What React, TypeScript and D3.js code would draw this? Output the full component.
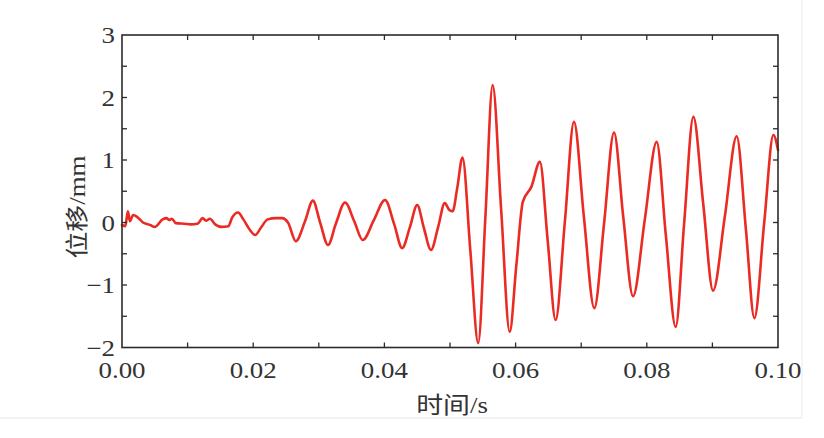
import React from "react";
import * as d3 from "d3";

const timeS: number[] = [
  0, 0.0005, 0.0009, 0.0012, 0.0017, 0.0023, 0.0032, 0.0043, 0.005, 0.0062,
  0.0068, 0.0072, 0.0076, 0.0082, 0.0095, 0.0105, 0.0115, 0.0123, 0.0128, 0.0134,
  0.0142, 0.0152, 0.0162, 0.0168, 0.0177, 0.0185, 0.0195, 0.0203, 0.0212, 0.0222,
  0.0235, 0.0244, 0.0253, 0.0265, 0.0279, 0.0291, 0.0302, 0.0314, 0.0326, 0.034,
  0.0354, 0.0367, 0.0384, 0.0401, 0.0415, 0.0427, 0.0439, 0.045, 0.046, 0.0471,
  0.0482, 0.0492, 0.0499, 0.0504, 0.0511, 0.0519, 0.0531, 0.0543, 0.0554, 0.0565,
  0.0578, 0.0591, 0.0601, 0.0611, 0.0624, 0.0637, 0.0649, 0.0661, 0.0675, 0.0689,
  0.0704, 0.072, 0.0735, 0.075, 0.0764, 0.0779, 0.0797, 0.0815, 0.0829, 0.0844,
  0.0857, 0.0871, 0.0886, 0.0901, 0.0919, 0.0937, 0.0951, 0.0964, 0.0979, 0.0993,
  0.1,
];

const dispMm: number[] = [
  -0.04, -0.06, 0.18, 0.02, 0.12, 0.09, 0.0, -0.04, -0.07, 0.05,
  0.07, 0.04, 0.06, -0.01, -0.02, -0.03, -0.02, 0.07, 0.03, 0.06,
  -0.03, -0.07, -0.06, 0.08, 0.16, 0.05, -0.12, -0.2, -0.08, 0.05,
  0.07, 0.07, 0.0, -0.3, 0.02, 0.35, 0.0, -0.36, -0.02, 0.32,
  0.02, -0.28, 0.04, 0.36, -0.03, -0.41, -0.07, 0.28, -0.08, -0.44,
  -0.07, 0.31, 0.2, 0.18, 0.55, 1.04, -0.45, -1.93, 0.1, 2.2,
  0.2, -1.75, -0.7, 0.33, 0.57, 0.97, -0.3, -1.56, 0.0, 1.61,
  0.1, -1.37, 0.0, 1.44, 0.1, -1.18, 0.05, 1.29, -0.2, -1.67,
  0.0, 1.69, 0.3, -1.09, 0.1, 1.38, -0.1, -1.53, 0.0, 1.4,
  1.16,
];

const xTickValues: number[] = [0, 0.02, 0.04, 0.06, 0.08, 0.1];
const xTickLabels: string[] = ["0.00", "0.02", "0.04", "0.06", "0.08", "0.10"];
const xMinorTicks: number[] = [0.01, 0.02, 0.03, 0.04, 0.05, 0.06, 0.07, 0.08, 0.09];
const yTickValues: number[] = [-2, -1, 0, 1, 2, 3];
const yMinorTicks: number[] = [-1.5, -1, -0.5, 0, 0.5, 1, 1.5, 2, 2.5];

const xLabel = "时间/s";
const yLabel = "位移/mm";

export default function App() {
  const W = 824;
  const H = 438;
  const left = 122;
  const right = 778;
  const top = 35;
  const bottom = 347.5;

  const x = d3.scaleLinear().domain([0, 0.1]).range([left, right]);
  const y = d3.scaleLinear().domain([-2, 3]).range([bottom, top]);

  const pts: [number, number][] = timeS.map((t, i) => [t, dispMm[i]]);
  const line = d3
    .line<[number, number]>()
    .x((d) => x(d[0]))
    .y((d) => y(d[1]))
    .curve(d3.curveMonotoneX);

  const tick = 5;
  const font = "'Times New Roman', 'Liberation Serif', serif";
  const cjkFont = "'Times New Roman', 'Liberation Serif', 'Noto Sans CJK SC', serif";
  const axisColor = "#2b2b2b";
  const sx = 1.17;

  return (
    <svg
      width={W}
      height={H}
      style={{ position: "absolute", left: 0, top: 0, background: "#fff" }}
    >
      <rect x={0} y={0} width={W} height={H} fill="#fff" />
      <line x1={0} y1={418} x2={802} y2={418} stroke="#e4e4e4" strokeWidth={1} />
      <line x1={802} y1={0} x2={802} y2={418} stroke="#ececec" strokeWidth={1} />

      <path
        d={line(pts) || ""}
        fill="none"
        stroke="#ea2b24"
        strokeWidth={2.6}
        strokeLinejoin="round"
        strokeLinecap="round"
      />

      <rect
        x={left}
        y={top}
        width={right - left}
        height={bottom - top}
        fill="none"
        stroke={axisColor}
        strokeWidth={1.6}
      />

      {xMinorTicks.map((v) => (
        <g key={"xt" + v}>
          <line x1={x(v)} x2={x(v)} y1={bottom} y2={bottom - tick} stroke={axisColor} strokeWidth={1.3} />
          <line x1={x(v)} x2={x(v)} y1={top} y2={top + tick} stroke={axisColor} strokeWidth={1.3} />
        </g>
      ))}
      {yMinorTicks.map((v) => (
        <g key={"yt" + v}>
          <line x1={left} x2={left + tick} y1={y(v)} y2={y(v)} stroke={axisColor} strokeWidth={1.3} />
          <line x1={right} x2={right - tick} y1={y(v)} y2={y(v)} stroke={axisColor} strokeWidth={1.3} />
        </g>
      ))}

      {xTickValues.map((v, i) => (
        <text
          key={"xl" + v}
          transform={`translate(${x(v)}, ${bottom + 30.5}) scale(${sx}, 1)`}
          textAnchor="middle"
          fontFamily={font}
          fontSize={23}
          fill="#333"
        >
          {xTickLabels[i]}
        </text>
      ))}
      {yTickValues.map((v) => (
        <text
          key={"yl" + v}
          transform={`translate(${left - 7}, ${y(v) + 8}) scale(${sx}, 1)`}
          textAnchor="end"
          fontFamily={font}
          fontSize={23}
          fill="#333"
        >
          {v < 0 ? "\u2212" + Math.abs(v) : String(v)}
        </text>
      ))}

      <text
        transform={`translate(${(left + right) / 2 + 2}, 413) scale(${sx}, 1)`}
        textAnchor="middle"
        fontFamily={cjkFont}
        fontSize={23}
        fill="#333"
      >
        {xLabel}
      </text>
      <text
        transform={`translate(85, 207) rotate(-90) scale(${sx}, 1)`}
        textAnchor="middle"
        fontFamily={cjkFont}
        fontSize={23}
        fill="#333"
      >
        {yLabel}
      </text>
    </svg>
  );
}
